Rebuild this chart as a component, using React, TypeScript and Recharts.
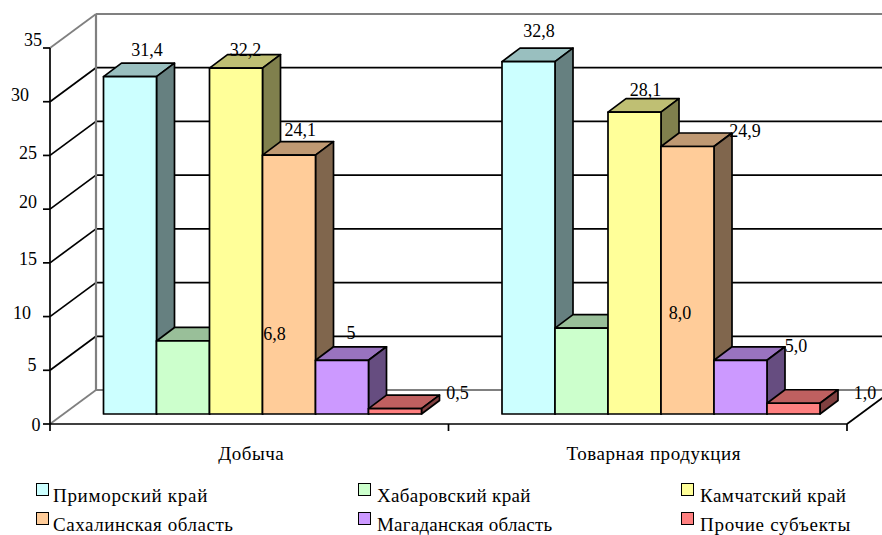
import { BarChart, Bar, CartesianGrid, XAxis, YAxis, LabelList, Legend } from "recharts";

const categories = ["Добыча", "Товарная продукция"];

const primorsky = [31.4, 32.8];
const khabarovsk = [6.8, 8.0];
const kamchatka = [32.2, 28.1];
const sakhalin = [24.1, 24.9];
const magadan = [5, 5.0];
const others = [0.5, 1.0];

const primorskyText = ["31,4", "32,8"];
const khabarovskText = ["6,8", "8,0"];
const kamchatkaText = ["32,2", "28,1"];
const sakhalinText = ["24,1", "24,9"];
const magadanText = ["5", "5,0"];
const othersText = ["0,5", "1,0"];

const yTicks = [0, 5, 10, 15, 20, 25, 30, 35];

const FONT = "'Liberation Serif', 'Times New Roman', serif";
const WIDTH = 882;
const HEIGHT = 535;
const LINE = 1.7;

// plot area is the plane the bar fronts stand on
const PLOT = { left: 64, top: 38, width: 797, height: 376 };
// front axis plane sits down-left of the bars, back wall up-right
const FRONT = { dx: -14, dy: 10 };
const WALL = { dx: 32, dy: -24 };
const BAR_DEPTH = { dx: 18, dy: -13.5 };

// where each value label hangs, relative to the bar's front top-left corner
const labelOffsets: Record<string, [number, number][]> = {
  primorsky: [[43.5, -27], [37, -31]],
  khabarovsk: [[118, -7], [125, -15]],
  kamchatka: [[36, -18], [37.5, -22]],
  sakhalin: [[37.75, -25], [84, -16]],
  magadan: [[35.5, -27], [82, -14]],
  others: [[89, -15.6], [98, -10]],
};

// Excel drifts the y tick labels a little, so each has its own nudge
const yLabelNudge: Record<number, [number, number]> = {
  0: [36, 1],
  5: [32, -5],
  10: [22, -4],
  15: [28, -4],
  20: [28, -7],
  25: [28, -2],
  30: [20, -7],
  35: [33, -8],
};

// legend entries are tracked out unevenly, one spacing per entry
const legendTracking = [0.7, 0.35, 0.5, 0.55, 0.22, 0.72];
const legendColumns = [
  { swatch: 36, text: 17 },
  { swatch: 358, text: 19 },
  { swatch: 681, text: 19 },
];

const series = [
  { key: "primorsky", name: "Приморский край", fill: "#CCFFFF", values: primorsky, text: primorskyText },
  { key: "khabarovsk", name: "Хабаровский край", fill: "#CCFFCC", values: khabarovsk, text: khabarovskText },
  { key: "kamchatka", name: "Камчатский край", fill: "#FFFF99", values: kamchatka, text: kamchatkaText },
  { key: "sakhalin", name: "Сахалинская область", fill: "#FFCC99", values: sakhalin, text: sakhalinText },
  { key: "magadan", name: "Магаданская область", fill: "#CC99FF", values: magadan, text: magadanText },
  { key: "others", name: "Прочие субъекты", fill: "#FF8080", values: others, text: othersText },
];

const rows = categories.map((name, i) => {
  const row: Record<string, string | number> = { name };
  series.forEach((s) => {
    row[s.key] = s.values[i];
  });
  return row;
});

function shade(hex: string, k: number) {
  const n = parseInt(hex.slice(1), 16);
  const ch = (v: number) => Math.round(v * k);
  return `rgb(${ch((n >> 16) & 255)},${ch((n >> 8) & 255)},${ch(n & 255)})`;
}

function Box3D(props: any) {
  const { x, y, width: w, height: h, fill } = props;
  const { dx, dy } = BAR_DEPTH;
  const common = { stroke: "#000", strokeWidth: LINE, strokeLinejoin: "round" as const };
  return (
    <g>
      <polygon
        points={`${x},${y} ${x + w},${y} ${x + w + dx},${y + dy} ${x + dx},${y + dy}`}
        fill={shade(fill, 0.75)}
        {...common}
      />
      <polygon
        points={`${x + w},${y} ${x + w},${y + h} ${x + w + dx},${y + h + dy} ${x + w + dx},${y + dy}`}
        fill={shade(fill, 0.5)}
        {...common}
      />
      <rect x={x} y={y} width={w} height={h} fill={fill} {...common} />
    </g>
  );
}

// one grid line becomes the back-wall line plus the slanted side-wall line;
// the walls have to stay behind the bars, so they live in the grid and not in the axis
function WallLine(props: any) {
  const y = props.y1 as number;
  const isTop = Math.abs(y - PLOT.top) < 1;
  const isFloor = Math.abs(y - (PLOT.top + PLOT.height)) < 1;
  const axisX = PLOT.left + FRONT.dx;
  const wallX = PLOT.left + WALL.dx;
  const frontY = y + FRONT.dy;
  const wallY = y + WALL.dy;
  const edge = isTop || isFloor;
  const color = edge ? "#808080" : "#000";
  return (
    <g>
      <line x1={wallX} y1={wallY} x2={WIDTH + 12} y2={wallY} stroke={color} strokeWidth={edge ? 2.2 : LINE} />
      <line x1={axisX} y1={frontY} x2={wallX} y2={wallY} stroke={color} strokeWidth={edge ? 1.8 : LINE} />
      {isTop && (
        <>
          <line x1={wallX} y1={wallY} x2={wallX} y2={wallY + PLOT.height} stroke="#808080" strokeWidth={2.2} />
          <line x1={axisX} y1={frontY} x2={axisX} y2={frontY + PLOT.height} stroke="#000" strokeWidth={LINE} />
        </>
      )}
      {isFloor && (
        <>
          <line x1={axisX} y1={frontY} x2={axisX + PLOT.width} y2={frontY} stroke="#000" strokeWidth={LINE} />
          <line
            x1={axisX + PLOT.width}
            y1={frontY}
            x2={axisX + PLOT.width + WALL.dx - FRONT.dx}
            y2={wallY}
            stroke="#000"
            strokeWidth={LINE}
          />
        </>
      )}
    </g>
  );
}

function ValueTick(props: any) {
  const { y, payload } = props;
  const v = payload.value as number;
  const axisX = PLOT.left + FRONT.dx;
  const frontY = y + FRONT.dy;
  const [lx, ly] = yLabelNudge[v];
  return (
    <g>
      <line x1={axisX - 7} y1={frontY} x2={axisX} y2={frontY} stroke="#000" strokeWidth={LINE} />
      <text x={lx} y={frontY + ly} textAnchor="middle" dominantBaseline="central" fontFamily={FONT} fontSize={18} fill="#000">
        {v}
      </text>
    </g>
  );
}

function CategoryTick(props: any) {
  const { x, payload, index } = props;
  const band = PLOT.width / categories.length;
  const left = x + FRONT.dx - band / 2;
  const y = PLOT.top + PLOT.height + FRONT.dy;
  const tick = (tx: number) => <line x1={tx} y1={y} x2={tx} y2={y + 7} stroke="#000" strokeWidth={LINE} />;
  return (
    <g>
      {tick(left)}
      {index === categories.length - 1 && tick(left + band)}
      <text
        x={x + FRONT.dx + (index === 0 ? 2 : 6)}
        y={y + 29}
        textAnchor="middle"
        dominantBaseline="central"
        fontFamily={FONT}
        fontSize={19}
        letterSpacing={0.55}
        fill="#000"
      >
        {payload.value}
      </text>
    </g>
  );
}

function valueLabel(key: string, text: string[]) {
  return (props: any) => {
    const { x, y, index } = props;
    const [dx, dy] = labelOffsets[key][index];
    return (
      <text x={x + dx} y={y + dy} textAnchor="middle" dominantBaseline="central" fontFamily={FONT} fontSize={18} fill="#000">
        {text[index]}
      </text>
    );
  };
}

function LegendBlock(props: any) {
  const items = props.payload ?? [];
  return (
    <div style={{ position: "relative", width: WIDTH, height: 56, fontFamily: FONT, fontSize: 19, color: "#000" }}>
      {items.map((it: any, i: number) => {
        const col = legendColumns[i % 3];
        const row = Math.floor(i / 3);
        return (
          <div key={it.value} style={{ position: "absolute", left: col.swatch, top: row * 29 }}>
            <div
              style={{
                position: "absolute",
                left: 0,
                top: 0,
                width: 11,
                height: 11,
                background: it.color,
                border: `${LINE}px solid #000`,
              }}
            />
            <div
              style={{
                position: "absolute",
                left: col.text,
                top: 2,
                whiteSpace: "nowrap",
                lineHeight: "22px",
                letterSpacing: legendTracking[i],
              }}
            >
              {it.value}
            </div>
          </div>
        );
      })}
    </div>
  );
}

export default function App() {
  return (
    <div style={{ position: "absolute", left: 0, top: 0, width: WIDTH, height: HEIGHT, background: "#fff" }}>
      <BarChart
        width={WIDTH}
        height={HEIGHT}
        data={rows}
        margin={{ left: PLOT.left - 1, top: PLOT.top, right: WIDTH - PLOT.left - PLOT.width, bottom: HEIGHT - PLOT.top - PLOT.height - 40 }}
        barCategoryGap={39.5}
        barGap={0}
      >
        <CartesianGrid vertical={false} horizontal={(p: any) => <WallLine key={p.key} {...p} />} syncWithTicks />
        <YAxis
          width={1}
          domain={[0, 35]}
          ticks={yTicks}
          interval={0}
          axisLine={false}
          tickLine={false}
          tick={<ValueTick />}
        />
        <XAxis dataKey="name" height={40} axisLine={false} tickLine={false} interval={0} tick={<CategoryTick />} />
        {series.map((s) => (
          <Bar key={s.key} dataKey={s.key} name={s.name} fill={s.fill} shape={<Box3D />} isAnimationActive={false}>
            <LabelList dataKey={s.key} content={valueLabel(s.key, s.text)} />
          </Bar>
        ))}
        <Legend
          layout="horizontal"
          verticalAlign="middle"
          itemSorter={null}
          content={<LegendBlock />}
          wrapperStyle={{ left: 0, top: 483, width: WIDTH, height: 56 }}
        />
      </BarChart>
    </div>
  );
}
